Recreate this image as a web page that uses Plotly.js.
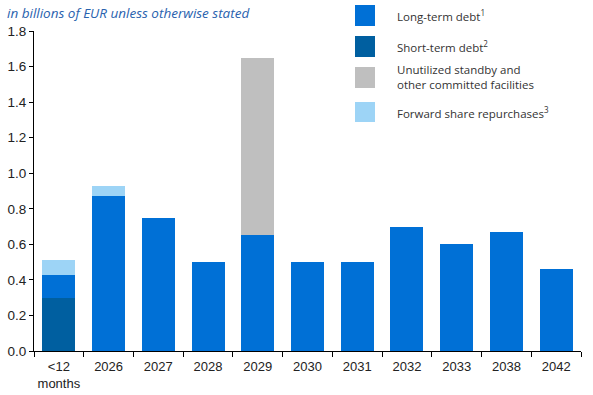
<!DOCTYPE html>
<html>
<head>
<meta charset="utf-8">
<script src="https://cdn.plot.ly/plotly-3.0.1.min.js"></script>
<style>html,body{margin:0;padding:0;background:#fff;}#chart{width:593px;height:395px;}</style>
</head>
<body>
<div id="chart"></div>
<script>
const categories = ["<12<br>months", "2026", "2027", "2028", "2029", "2030", "2031", "2032", "2033", "2038", "2042"];
const shortTermDebt = [0.30, 0, 0, 0, 0, 0, 0, 0, 0, 0, 0];
const longTermDebt = [0.13, 0.87, 0.75, 0.50, 0.65, 0.50, 0.50, 0.70, 0.60, 0.67, 0.46];
const unutilizedFacilities = [0, 0, 0, 0, 1.00, 0, 0, 0, 0, 0, 0];
const forwardRepurchases = [0.08, 0.06, 0, 0, 0, 0, 0, 0, 0, 0, 0];
const yTicks = [0, 0.2, 0.4, 0.6, 0.8, 1.0, 1.2, 1.4, 1.6, 1.8];

const legendNames = ["Long-term debt<sup>1</sup>", "Short-term debt<sup>2</sup>", "Unutilized standby and<br>other committed facilities", "Forward share repurchases<sup>3</sup>"];
const colors = {long: "#0070D6", short: "#005FA0", unused: "#BFBFBF", fwd: "#9DD4F6"};

const mk = (name, y, color) => ({type: "bar", name: name, x: categories, y: y, marker: {color: color, line: {width: 0}}, showlegend: false, hoverinfo: "y"});
const data = [
  mk("Short-term debt", shortTermDebt, colors.short),
  mk("Long-term debt", longTermDebt, colors.long),
  mk("Unutilized standby and other committed facilities", unutilizedFacilities, colors.unused),
  mk("Forward share repurchases", forwardRepurchases, colors.fwd)
];

// legend (manual, pixel-based in paper coords)
const W = 593, H = 395, ml = 34, mr = 12, mt = 31, mb = 44;
const pw = W - ml - mr, ph = H - mt - mb;
const px = x => (x - ml) / pw;
const py = y => (H - mb - y) / ph;
const legendBoxes = [[5, 26, colors.long], [36, 57, colors.short], [67, 88, colors.unused], [102, 122, colors.fwd]];
const shapes = legendBoxes.map(b => ({type: "rect", xref: "paper", yref: "paper", x0: px(355), x1: px(375), y0: py(b[1]), y1: py(b[0]), fillcolor: b[2], line: {width: 0}}));
const annotations = legendBoxes.map((b, i) => ({xref: "paper", yref: "paper", x: px(395), y: py((b[0] + b[1]) / 2), xanchor: "left", yanchor: "middle", align: "left", showarrow: false, text: legendNames[i], font: {family: "Open Sans, sans-serif", size: 11.5, color: "#333"}}));
annotations.push({xref: "paper", yref: "paper", x: px(5), y: py(13), xanchor: "left", yanchor: "middle", showarrow: false, text: "<i>in billions of EUR unless otherwise stated</i>", font: {family: "Open Sans, sans-serif", size: 13.5, color: "#2962AE"}});

const layout = {
  width: W, height: H,
  margin: {l: ml, r: mr, t: mt, b: mb, pad: 0},
  paper_bgcolor: "#fff", plot_bgcolor: "#fff",
  barmode: "stack", bargap: 0.335,
  font: {family: "Liberation Sans, Arial, sans-serif", size: 13, color: "#222"},
  xaxis: {type: "category", tickangle: 0, showline: true, linecolor: "#000", linewidth: 1, ticks: "outside", tickson: "boundaries", ticklen: 5, tickcolor: "#000", ticklabelstandoff: 3, showgrid: false, zeroline: false, tickfont: {family: "Liberation Sans, Arial, sans-serif", size: 13, color: "#222"}},
  yaxis: {range: [0, 1.8], tickvals: yTicks, ticktext: yTicks.map(v => v.toFixed(1)), showline: true, linecolor: "#000", linewidth: 1, ticks: "outside", ticklen: 4, tickcolor: "#000", showgrid: false, zeroline: false, tickfont: {family: "Liberation Sans, Arial, sans-serif", size: 13.5, color: "#222"}},
  shapes: shapes,
  annotations: annotations
};
Plotly.newPlot("chart", data, layout, {displayModeBar: false, staticPlot: true});
</script>
</body>
</html>
